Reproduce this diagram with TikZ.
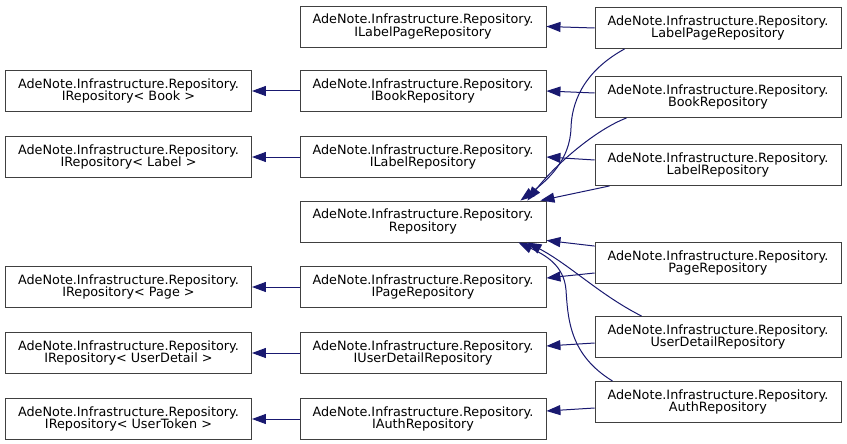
\documentclass[tikz,border=0pt]{standalone}
\usepackage{fontspec}
\setmainfont{DejaVu Sans}
\usetikzlibrary{arrows.meta}
\definecolor{navy}{HTML}{191970}
\definecolor{boxgray}{HTML}{404040}
\begin{document}
\begin{tikzpicture}[x=1pt,y=-1pt,
  cls/.style={draw=boxgray, line width=0.9pt, fill=white, minimum width=246pt,
    minimum height=41pt, inner sep=0pt, align=center,
    font=\fontsize{12.8}{12.5}\selectfont},
  edge/.style={draw=navy, line width=1pt, -{Triangle[length=14pt,width=10pt]}}]
\useasboundingbox (0,0) rectangle (847,444);
% column 1
\node[cls] (rb)  at (128.5,91)  {AdeNote.Infrastructure.Repository.\\IRepository< Book >};
\node[cls] (rl)  at (128.5,157) {AdeNote.Infrastructure.Repository.\\IRepository< Label >};
\node[cls] (rp)  at (128.5,287) {AdeNote.Infrastructure.Repository.\\IRepository< Page >};
\node[cls] (rud) at (128.5,353) {AdeNote.Infrastructure.Repository.\\IRepository< UserDetail >};
\node[cls] (rut) at (128.5,419) {AdeNote.Infrastructure.Repository.\\IRepository< UserToken >};
% column 2
\node[cls] (ilp) at (423,26.5)  {AdeNote.Infrastructure.Repository.\\ILabelPageRepository};
\node[cls] (ib)  at (423,91)    {AdeNote.Infrastructure.Repository.\\IBookRepository};
\node[cls] (il)  at (423,157)   {AdeNote.Infrastructure.Repository.\\ILabelRepository};
\node[cls] (rep) at (423,221.5) {AdeNote.Infrastructure.Repository.\\Repository};
\node[cls] (ip)  at (423,287)   {AdeNote.Infrastructure.Repository.\\IPageRepository};
\node[cls] (iud) at (423,353)   {AdeNote.Infrastructure.Repository.\\IUserDetailRepository};
\node[cls] (ia)  at (423,419)   {AdeNote.Infrastructure.Repository.\\IAuthRepository};
% column 3
\node[cls] (lp) at (718,28)  {AdeNote.Infrastructure.Repository.\\LabelPageRepository};
\node[cls] (bk) at (718,97)  {AdeNote.Infrastructure.Repository.\\BookRepository};
\node[cls] (lb) at (718,165) {AdeNote.Infrastructure.Repository.\\LabelRepository};
\node[cls] (pg) at (718,263) {AdeNote.Infrastructure.Repository.\\PageRepository};
\node[cls] (ud) at (718,337) {AdeNote.Infrastructure.Repository.\\UserDetailRepository};
\node[cls] (au) at (718,402) {AdeNote.Infrastructure.Repository.\\AuthRepository};
% interface to generic interface
\draw[edge] (ib) -- (rb);
\draw[edge] (il) -- (rl);
\draw[edge] (ip) -- (rp);
\draw[edge] (iud) -- (rud);
\draw[edge] (ia) -- (rut);
% implementation to interface
\draw[edge] (lp.west) -- (ilp.east);
\draw[edge] ([yshift=4pt]bk.west) -- (ib.east);
\draw[edge] ([yshift=5pt]lb.west) -- (il.east);
\draw[edge] ([yshift=-10pt]pg.west) -- ([yshift=9pt]ip.east);
\draw[edge] ([yshift=-6pt]ud.west) -- ([yshift=7pt]iud.east);
\draw[edge] ([yshift=-6pt]au.west) -- ([yshift=8pt]ia.east);
% implementation to Repository
\draw[edge] ([xshift=30pt]lp.south west) .. controls (590,68) and (572,95) .. (571,128)
  .. controls (570,160) and (548,180) .. ([xshift=-26pt]rep.north east);
\draw[edge] ([xshift=32pt]bk.south west) .. controls (595,130) and (555,165) .. ([xshift=-19pt]rep.north east);
\draw[edge] ([xshift=15pt]lb.south west) -- ([xshift=-6pt]rep.north east);
\draw[edge] ([yshift=-4pt]pg.north west) -- ([yshift=2pt]rep.south east);
\draw[edge] ([xshift=47pt]ud.north west) .. controls (600,295) and (570,265) .. ([xshift=-19pt]rep.south east);
\draw[edge] ([xshift=18pt]au.north west) .. controls (570,355) and (568,320) .. (566,290)
  .. controls (564,265) and (545,255) .. ([xshift=-28pt]rep.south east);
\end{tikzpicture}
\end{document}
